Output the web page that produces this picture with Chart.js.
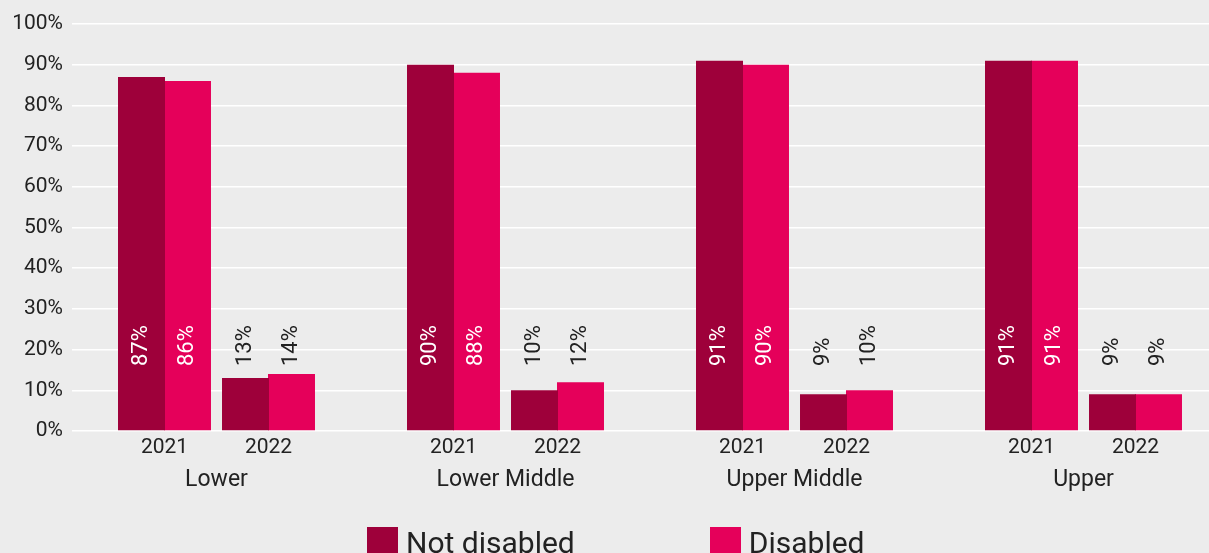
<!DOCTYPE html>
<html>
<head>
<meta charset="utf-8">
<script src="https://cdn.jsdelivr.net/npm/chart.js@4"></script>
<style>
  html, body { margin: 0; padding: 0; background: #ececec; overflow: hidden; }
  #wrap { position: relative; width: 1230px; height: 553px; }
  #legend { position: absolute; left: 367px; top: 527px; display: flex; gap: 135px;
            font-family: Roboto, sans-serif; font-size: 30px; color: #222; }
  .item { display: flex; align-items: flex-start; gap: 8px; line-height: 31px; white-space: nowrap; }
  .box { width: 31px; height: 31px; }
</style>
</head>
<body>
<div id="wrap">
  <canvas id="chart" width="1230" height="553"></canvas>
  <div id="legend"></div>
</div>
<script>
const groups = ['Lower', 'Lower Middle', 'Upper Middle', 'Upper'];
const years = ['2021', '2022'];
const seriesNames = ['Not disabled', 'Disabled'];
const notDisabled2021 = [87, 90, 91, 91];
const disabled2021 = [86, 88, 90, 91];
const notDisabled2022 = [13, 10, 9, 9];
const disabled2022 = [14, 12, 10, 9];
const yTicks = [0, 10, 20, 30, 40, 50, 60, 70, 80, 90, 100];

const darkRed = '#9e003a';
const pink = '#e5005a';
const textColor = '#222222';
const font = 'Roboto, sans-serif';

// outer bars / inner bars of each group get their own spacing so the two years sit apart
const outer = { categoryPercentage: 0.692, barPercentage: 0.94 };
const inner = { categoryPercentage: 0.8028, barPercentage: 0.81 };

const datasets = [
  Object.assign({ label: seriesNames[0], year: years[0], data: notDisabled2021, backgroundColor: darkRed }, outer),
  Object.assign({ label: seriesNames[1], year: years[0], data: disabled2021, backgroundColor: pink }, inner),
  Object.assign({ label: seriesNames[0], year: years[1], data: notDisabled2022, backgroundColor: darkRed }, inner),
  Object.assign({ label: seriesNames[1], year: years[1], data: disabled2022, backgroundColor: pink }, outer)
];

const barLabels = {
  id: 'barLabels',
  afterDatasetsDraw(chart) {
    const ctx = chart.ctx;
    const base = chart.chartArea.bottom - 65;
    ctx.save();
    ctx.font = '22px ' + font;
    ctx.textAlign = 'left';
    ctx.textBaseline = 'middle';
    chart.data.datasets.forEach((ds, di) => {
      const meta = chart.getDatasetMeta(di);
      meta.data.forEach((bar, i) => {
        ctx.save();
        ctx.translate(bar.x, base);
        ctx.rotate(-Math.PI / 2);
        ctx.fillStyle = ds.year === years[0] ? '#ffffff' : textColor;
        ctx.fillText(ds.data[i] + '%', 0, 0);
        ctx.restore();
      });
    });
    ctx.restore();
  }
};

const yearLabels = {
  id: 'yearLabels',
  afterDraw(chart) {
    const ctx = chart.ctx;
    ctx.save();
    ctx.font = '21px ' + font;
    ctx.fillStyle = textColor;
    ctx.textAlign = 'center';
    ctx.textBaseline = 'middle';
    const m = [0, 1, 2, 3].map(d => chart.getDatasetMeta(d));
    groups.forEach((g, i) => {
      const y = chart.chartArea.bottom + 17;
      ctx.fillText(years[0], (m[0].data[i].x + m[1].data[i].x) / 2, y);
      ctx.fillText(years[1], (m[2].data[i].x + m[3].data[i].x) / 2, y);
    });
    ctx.restore();
  }
};

new Chart(document.getElementById('chart'), {
  type: 'bar',
  data: { labels: groups, datasets: datasets },
  plugins: [barLabels, yearLabels],
  options: {
    responsive: false,
    animation: false,
    layout: { padding: { top: 24, right: 2, bottom: 52, left: 0 } },
    plugins: { legend: { display: false }, tooltip: { enabled: false } },
    datasets: { bar: { borderWidth: 0 } },
    scales: {
      x: {
        grid: { display: false, drawTicks: false },
        border: { display: false },
        ticks: { color: textColor, font: { family: font, size: 23 }, padding: 35 },
        afterFit(scale) { scale.height = 70; }
      },
      y: {
        min: 0,
        max: 100,
        afterBuildTicks(scale) { scale.ticks = yTicks.map(v => ({ value: v })); },
        grid: { color: '#ffffff', lineWidth: 1.5, drawTicks: false },
        border: { display: false },
        ticks: { color: textColor, font: { family: font, size: 21 }, padding: 9,
                 callback: v => v + '%' },
        afterFit(scale) { scale.width = 72; }
      }
    }
  }
});

const legend = document.getElementById('legend');
seriesNames.forEach((name, i) => {
  const item = document.createElement('div');
  item.className = 'item';
  const box = document.createElement('div');
  box.className = 'box';
  box.style.background = i === 0 ? darkRed : pink;
  const txt = document.createElement('span');
  txt.textContent = name;
  item.appendChild(box);
  item.appendChild(txt);
  legend.appendChild(item);
});
</script>
</body>
</html>
